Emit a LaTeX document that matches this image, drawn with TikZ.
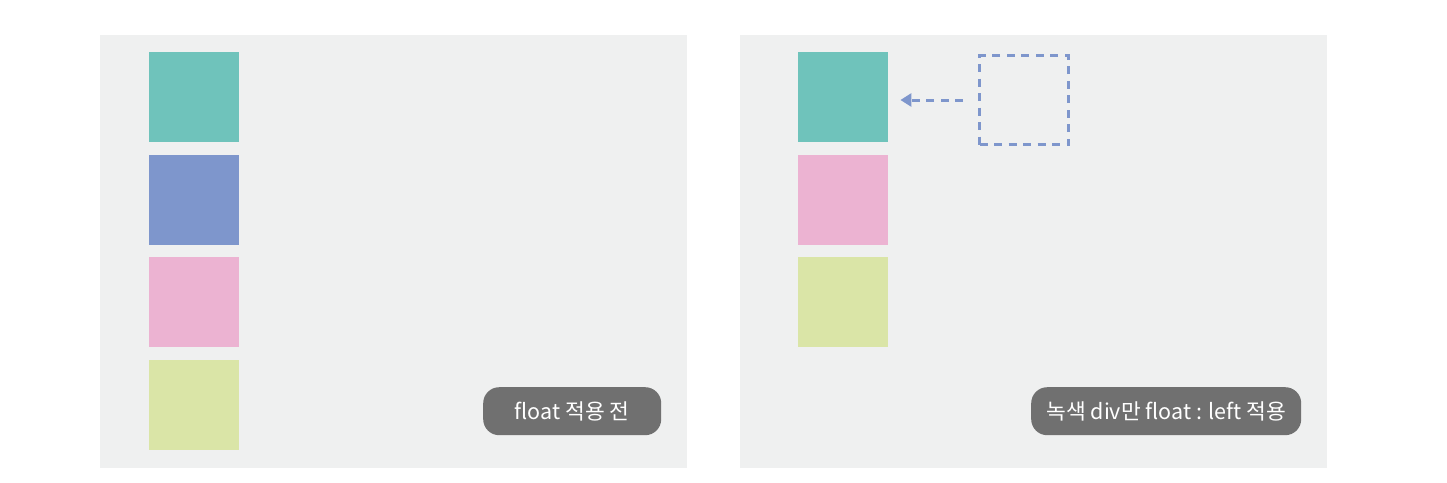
\documentclass[tikz,border=0pt]{standalone}
\usepackage{fontspec}
\setmainfont{Noto Sans CJK KR}
\usetikzlibrary{arrows.meta}

\definecolor{panelbg}{HTML}{EFF0F0}
\definecolor{boxteal}{HTML}{6FC3BB}
\definecolor{boxblue}{HTML}{7E96CC}
\definecolor{boxpink}{HTML}{ECB3D2}
\definecolor{boxgreen}{HTML}{DAE5A7}
\definecolor{pillgray}{HTML}{707070}

\tikzset{
  panel/.style = {fill=panelbg, draw=none, minimum width=587pt, minimum height=433pt, inner sep=0pt, anchor=north west},
  divbox/.style = {fill=#1, draw=none, minimum size=90pt, inner sep=0pt, anchor=north west},
  pill/.style = {fill=pillgray, rounded corners=16pt, text=white, font=\fontsize{21.5pt}{24pt}\selectfont, minimum height=48pt, inner xsep=0pt, anchor=north west},
}

\begin{document}
\begin{tikzpicture}[x=1pt, y=-1pt]

            \useasboundingbox (0,0) rectangle (1447,482);

            % before float
            \node[panel] (leftpanel) at (100,35) {};
            \node[divbox=boxteal] (lteal) at (149,52) {};
            \node[divbox=boxblue] (lblue) at (149,154.5) {};
            \node[divbox=boxpink] (lpink) at (149,257) {};
            \node[divbox=boxgreen] (lgreen) at (149,360) {};
            \node[pill, minimum width=178pt] (lpill) at (483,387) {float 적용 전};

            % after float:left on the green div
            \node[panel] (rightpanel) at (740,35) {};
            \node[divbox=boxteal] (rteal) at (798,52) {};
            \node[divbox=boxpink] (rpink) at (798,154.5) {};
            \node[divbox=boxgreen] (rgreen) at (798,257) {};
            \node[divbox=panelbg, draw=boxblue, line width=3pt, dash pattern=on 8pt off 6.5pt, minimum size=89pt] (ghost) at (978,54) {};
            \draw[boxblue, line width=3pt, dash pattern=on 8pt off 6.5pt, -{Triangle[length=11pt, width=13pt]}, shorten <=15pt, shorten >=12pt] (ghost.west) -- (ghost.west -| rteal.east);
            \node[pill, minimum width=270pt] (rpill) at (1031,387) {녹색 div만 float : left 적용};

        \end{tikzpicture}
\end{document}
